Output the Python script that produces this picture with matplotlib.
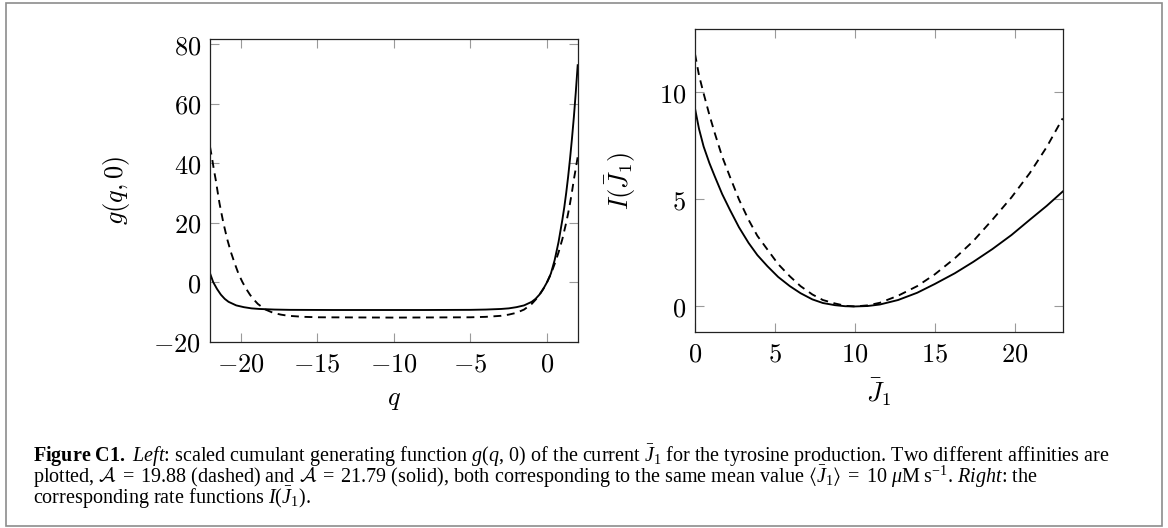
import matplotlib
matplotlib.use("Agg")
import matplotlib.pyplot as plt
from matplotlib.patches import Rectangle
from matplotlib.ticker import FixedLocator, FuncFormatter

plt.rcParams['mathtext.fontset'] = 'cm'
plt.rcParams['mathtext.rm'] = 'Liberation Serif'
plt.rcParams['mathtext.it'] = 'Liberation Serif:italic'
plt.rcParams['mathtext.bf'] = 'Liberation Serif:bold'
plt.rcParams['mathtext.cal'] = 'cmsy10'
plt.rcParams['mathtext.fallback'] = 'stix'

# ---------------- data ----------------
# left panel: scaled cumulant generating function g(q, 0)
q_solid = [-22.0, -21.79, -21.54, -21.29, -21.04, -20.79, -20.29, -19.79, -19.29, -18.79,
           -17.79, -16.79, -14.0, -10.9, -8.0, -5.0, -4.0, -3.0, -2.5, -2.0, -1.5, -1.0,
           -0.75, -0.5, -0.25, 0.0, 0.25, 0.5, 0.75, 1.0, 1.125, 1.25, 1.375, 1.5, 1.625,
           1.75, 1.875, 2.0]
g_solid = [3.0, 0.0, -2.3, -4.2, -5.6, -6.6, -7.8, -8.4, -8.8, -9.0,
           -9.2, -9.3, -9.35, -9.35, -9.35, -9.3, -9.2, -9.0, -8.8, -8.4, -7.8, -6.6,
           -5.6, -4.2, -2.3, 0.0, 2.9, 7.5, 13.5, 21.0, 25.2, 30.0, 35.4, 41.5, 48.2,
           55.5, 63.8, 72.9]

q_dashed = [-22.0, -21.88, -21.76, -21.63, -21.50, -21.38, -21.25, -21.13, -20.88, -20.63,
            -20.38, -20.13, -19.88, -19.63, -19.38, -19.13, -18.88, -18.38, -17.88, -17.38,
            -16.88, -15.88, -14.88, -9.94, -5.0, -4.0, -3.0, -2.5, -2.0, -1.5, -1.0, -0.75,
            -0.5, -0.25, 0.0, 0.25, 0.5, 0.75, 1.0, 1.25, 1.375, 1.5, 1.625, 1.75, 1.875, 2.0]
g_dashed = [45.5, 42.1, 38.2, 34.5, 30.3, 26.5, 23.1, 20.0, 14.5, 10.0,
            6.2, 2.7, 0.0, -2.3, -4.3, -5.9, -7.3, -9.2, -10.3, -10.9,
            -11.3, -11.65, -11.8, -11.9, -11.8, -11.65, -11.3, -10.9, -10.3, -9.2, -7.3, -5.9,
            -4.3, -2.3, 0.0, 2.7, 6.2, 10.0, 14.5, 20.0, 23.1, 26.5, 30.3, 34.5, 38.2, 42.1]

# right panel: rate functions I(J1)
J_solid = [0, 0.25, 0.54, 0.9, 1.24, 1.7, 2.18, 2.75, 3.35, 3.9, 4.53, 5.2, 5.93, 6.6, 7.34,
           8.0, 8.75, 9.4, 10.0, 10.8, 11.56, 12.7, 13.9, 15.0, 16.25, 17.4, 18.6, 19.8,
           20.94, 22.0, 23.0]
I_solid = [9.25, 8.3, 7.47, 6.7, 6.07, 5.25, 4.52, 3.7, 2.97, 2.4, 1.88, 1.38, 0.95, 0.62, 0.33,
           0.16, 0.06, 0.01, 0.0, 0.02, 0.09, 0.3, 0.64, 1.05, 1.55, 2.08, 2.68, 3.34,
           4.05, 4.7, 5.37]
J_dashed = [0, 0.25, 0.54, 0.9, 1.24, 1.7, 2.18, 2.75, 3.35, 3.9, 4.53, 5.2, 5.93, 6.6, 7.34,
            8.0, 8.75, 9.4, 10.0, 10.8, 11.56, 12.7, 13.9, 15.0, 16.25, 17.4, 18.6, 19.8,
            20.94, 22.0, 23.0]
I_dashed = [11.8, 10.8, 9.95, 8.95, 8.09, 7.0, 6.07, 5.0, 4.05, 3.3, 2.66, 1.98, 1.41, 0.95, 0.56,
            0.3, 0.14, 0.03, 0.0, 0.05, 0.17, 0.5, 0.95, 1.5, 2.25, 3.05, 4.05, 5.1,
            6.23, 7.45, 8.79]

left_xticks = [-20, -15, -10, -5, 0]
left_yticks = [-20, 0, 20, 40, 60, 80]
right_xticks = [0, 5, 10, 15, 20]
right_yticks = [0, 5, 10]

caption_lines = [
    r"$\mathbf{Figure\ C1.}$ $\mathit{Left}$: scaled cumulant generating function $g(q,\,0)$ of the current $\bar{J}_1$ for the tyrosine production. Two different affinities are",
    r"plotted, $\mathcal{A}\;=\;19.88$ (dashed) and $\mathcal{A}\;=\;21.79$ (solid), both corresponding to the same mean value $\langle\bar{J}_1\rangle\;=\;10\ \mu\mathrm{M\ s}^{-1}$. $\mathit{Right}$: the",
    r"corresponding rate functions $I(\bar{J}_1)$.",
]

# ---------------- figure ----------------
W, H = 1168, 528
fig = plt.figure(figsize=(W / 100, H / 100), dpi=100)

def px_axes(l, t, r, b):
    return [l / W, 1 - b / H, (r - l) / W, (b - t) / H]

ax1 = fig.add_axes(px_axes(210, 39.3, 577.7, 341.7))
ax2 = fig.add_axes(px_axes(695, 29.3, 1062.7, 331.7))

fmt = FuncFormatter(lambda v, p: f"${v:g}$")
lw = 1.35
dash = (4.2, 3.0)

ax1.plot(q_solid, g_solid, color='black', lw=lw, solid_joinstyle='round')
ax1.plot(q_dashed, g_dashed, color='black', lw=lw, dashes=dash)
ax1.set_xlim(-22, 2)
ax1.set_ylim(-20, 81.6)
ax1.xaxis.set_major_locator(FixedLocator(left_xticks))
ax1.yaxis.set_major_locator(FixedLocator(left_yticks))

ax2.plot(J_solid, I_solid, color='black', lw=lw, solid_joinstyle='round')
ax2.plot(J_dashed, I_dashed, color='black', lw=lw, dashes=dash)
ax2.set_xlim(0, 23)
ax2.set_ylim(-1.18, 12.95)
ax2.xaxis.set_major_locator(FixedLocator(right_xticks))
ax2.yaxis.set_major_locator(FixedLocator(right_yticks))

for ax in (ax1, ax2):
    ax.xaxis.set_major_formatter(fmt)
    ax.yaxis.set_major_formatter(fmt)
    ax.tick_params(direction='in', length=6.5, width=0.8, color='#9a9a9a',
                   top=True, right=True, labelsize=19)
    ax.tick_params(axis='x', pad=7)
    ax.tick_params(axis='y', pad=6.5)
    for s in ax.spines.values():
        s.set_linewidth(0.9)
        s.set_color('#222222')

ax1.set_xlabel(r"$q$", fontsize=19)
ax1.set_ylabel(r"$g(q, 0)$", fontsize=19)
ax1.xaxis.set_label_coords(0.5, -0.146)
ax1.yaxis.set_label_coords(-0.212, 0.5)

ax2.set_xlabel(r"$\bar{J}_1$", fontsize=19)
ax2.set_ylabel(r"$I(\bar{J}_1)$", fontsize=19)
ax2.xaxis.set_label_coords(0.5, -0.146)
ax2.yaxis.set_label_coords(-0.155, 0.5)

# outer frame
fig.add_artist(Rectangle((6 / W, 2 / H), (1162 - 6) / W, (526 - 3.3) / H,
                         transform=fig.transFigure, fill=False,
                         edgecolor='#8c8c8c', linewidth=1.2))

# ---------------- caption: one multi-line text, fitted to the reference ----------------
fig.canvas.draw()
r = fig.canvas.get_renderer()
cap_kw = dict(family='Liberation Serif', math_fontfamily='custom', ha='left', color='black')

def measure(line, fs):
    t = fig.text(0.5, 0.5, line, fontsize=fs, va='baseline', **cap_kw)
    bb = t.get_window_extent(r)
    y0 = 0.5 * H
    res = (bb.y1 - y0, y0 - bb.y0, bb.width)
    t.remove()
    return res

_, _, w1 = measure(caption_lines[0], 13)
fs = 13 * (1110 - 33) / w1
above1, _, _ = measure(caption_lines[0], fs)
_, below3, _ = measure(caption_lines[-1], fs)

first_baseline = 462.0       # px from top, reference
line_gap = 21.0              # px between baselines, reference
target_h = above1 + 2 * line_gap + below3

caption = fig.text(33 / W, 0.5, "\n".join(caption_lines), fontsize=fs,
                   va='top', linespacing=1.2, **cap_kw)

lo, hi = 0.5, 2.5
for _ in range(30):
    mid = 0.5 * (lo + hi)
    caption.set_linespacing(mid)
    h = caption.get_window_extent(r).height
    if h > target_h:
        hi = mid
    else:
        lo = mid
caption.set_linespacing(0.5 * (lo + hi))
caption.set_y((H - first_baseline + above1) / H)

fig.savefig("out.png", dpi=100)
